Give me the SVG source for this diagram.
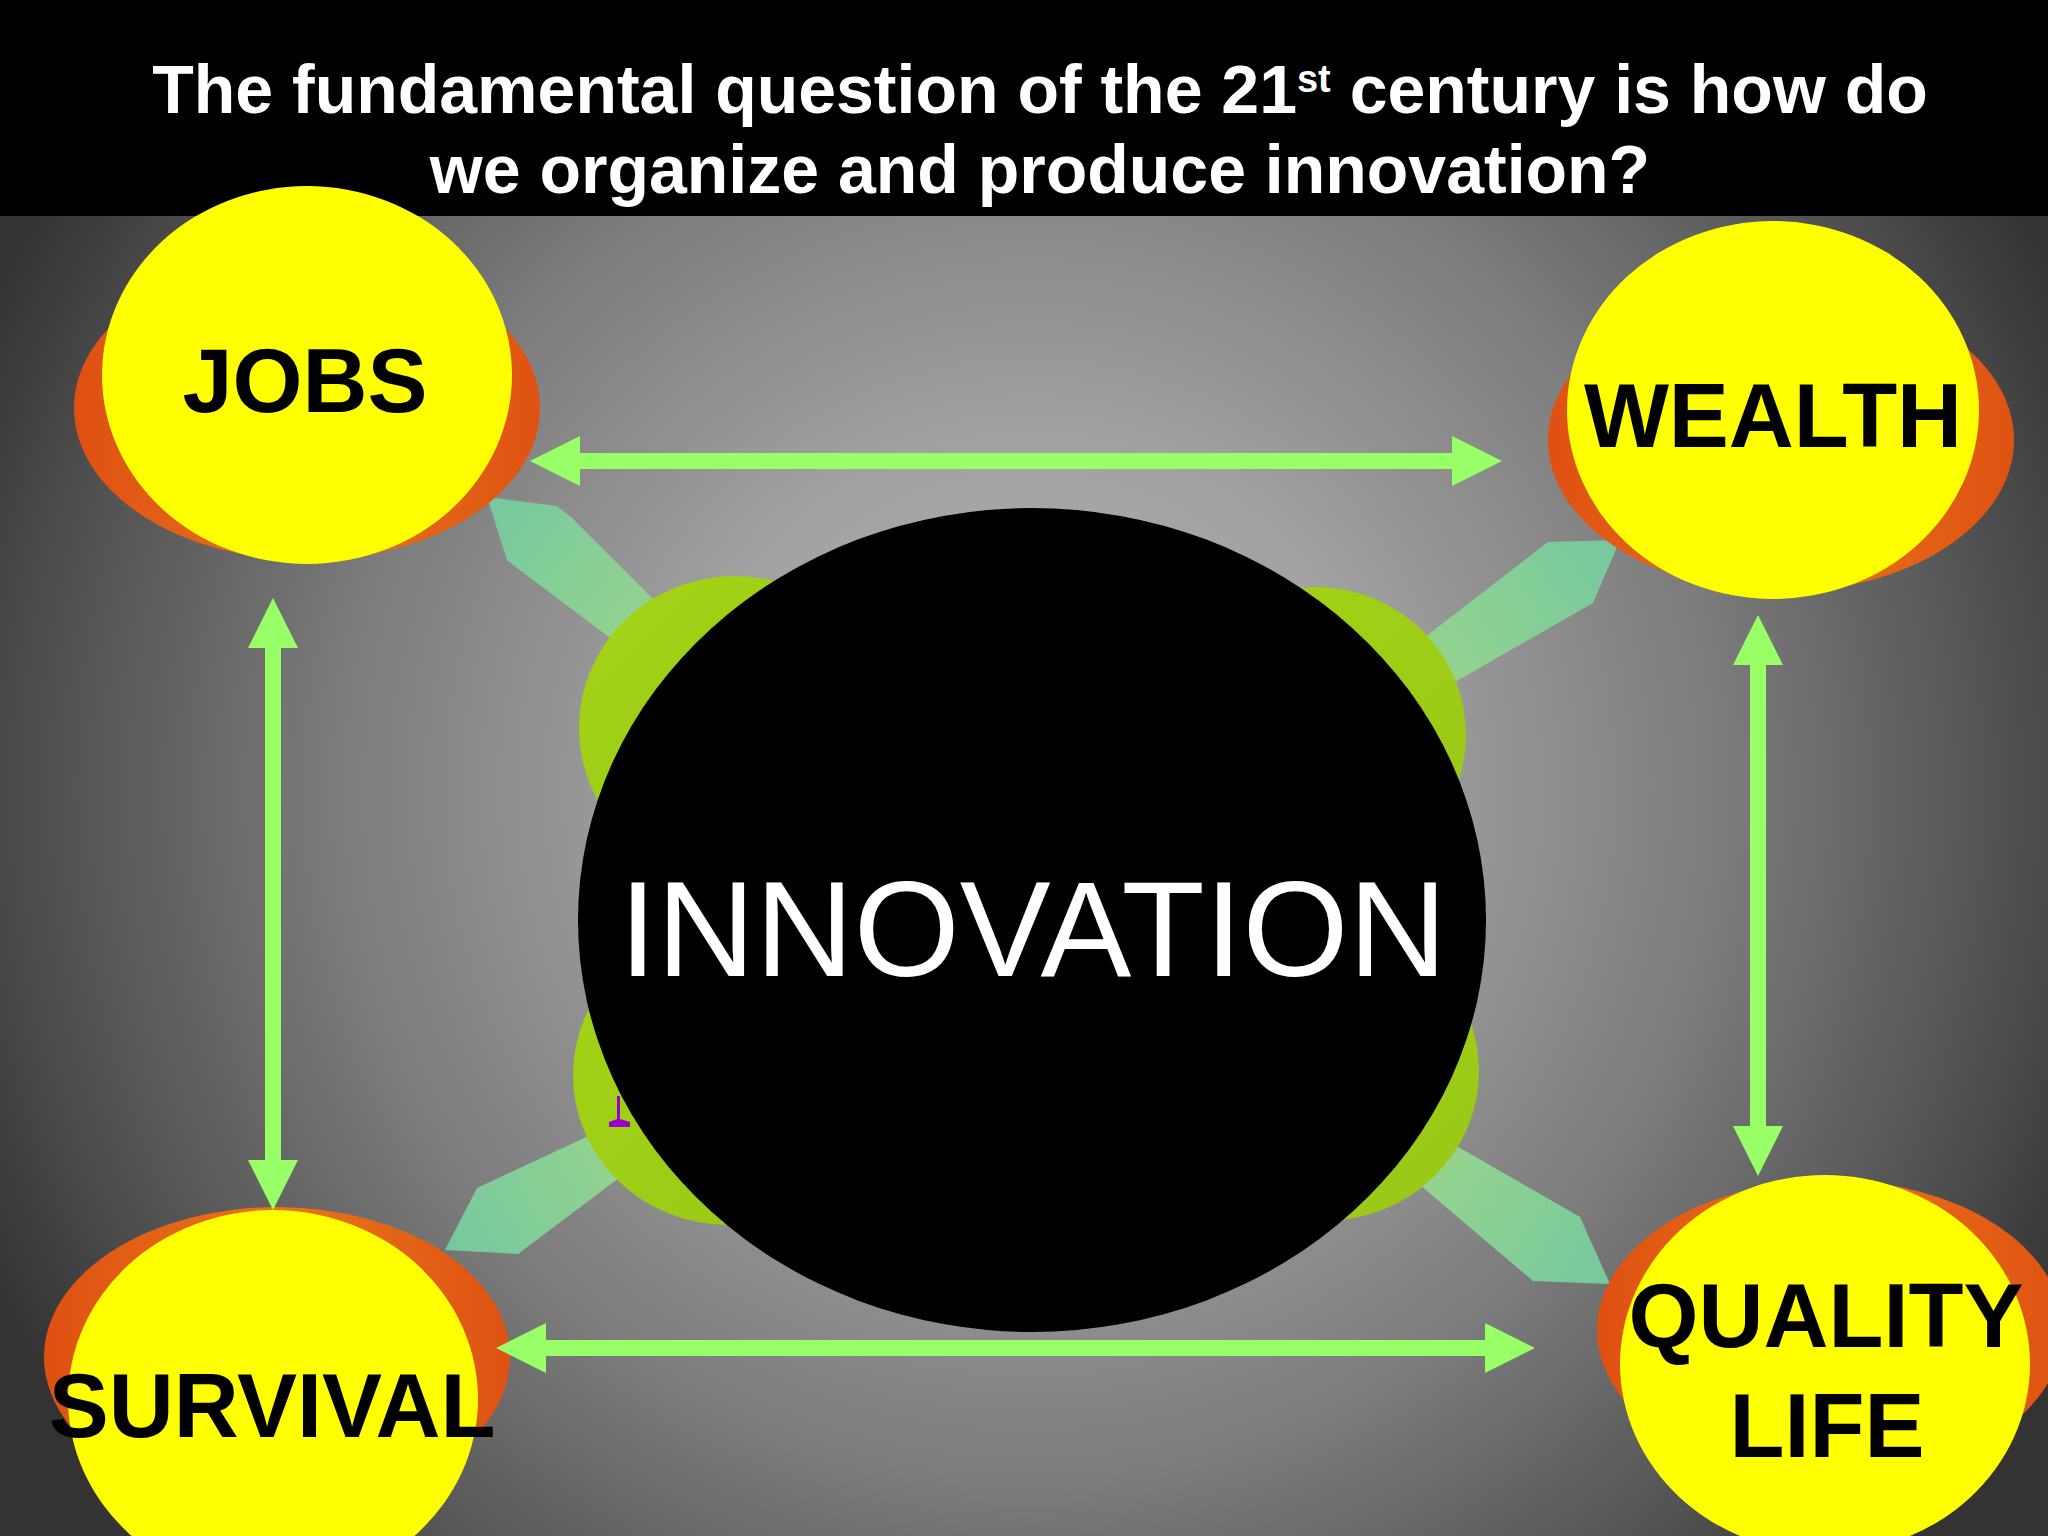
<svg xmlns="http://www.w3.org/2000/svg" width="2048" height="1536" viewBox="0 0 2048 1536">
  <defs>
    <radialGradient id="bg" gradientUnits="userSpaceOnUse" cx="1030" cy="790" r="1150">
      <stop offset="0" stop-color="#b6b6b6"/>
      <stop offset="0.3" stop-color="#a2a2a2"/>
      <stop offset="0.6" stop-color="#7c7c7c"/>
      <stop offset="0.85" stop-color="#515151"/>
      <stop offset="1" stop-color="#333333"/>
    </radialGradient>
    <linearGradient id="orange" x1="0" y1="0" x2="1" y2="0">
      <stop offset="0" stop-color="#df5012"/>
      <stop offset="0.5" stop-color="#e8761a"/>
      <stop offset="1" stop-color="#df5212"/>
    </linearGradient>
    <linearGradient id="lime" x1="0" y1="0" x2="1" y2="1">
      <stop offset="0" stop-color="#a4d414"/>
      <stop offset="1" stop-color="#98c818"/>
    </linearGradient>
    <linearGradient id="tealTL" gradientUnits="userSpaceOnUse" x1="490" y1="500" x2="680" y2="650">
      <stop offset="0" stop-color="#76c89e"/>
      <stop offset="1" stop-color="#9ad68c"/>
    </linearGradient>
    <linearGradient id="tealTR" gradientUnits="userSpaceOnUse" x1="1615" y1="545" x2="1400" y2="690">
      <stop offset="0" stop-color="#76c89e"/>
      <stop offset="1" stop-color="#9ad68c"/>
    </linearGradient>
    <linearGradient id="tealBL" gradientUnits="userSpaceOnUse" x1="450" y1="1248" x2="650" y2="1130">
      <stop offset="0" stop-color="#76c89e"/>
      <stop offset="1" stop-color="#9ad68c"/>
    </linearGradient>
    <linearGradient id="tealBR" gradientUnits="userSpaceOnUse" x1="1605" y1="1280" x2="1410" y2="1150">
      <stop offset="0" stop-color="#76c89e"/>
      <stop offset="1" stop-color="#9ad68c"/>
    </linearGradient>
    <style>
      .title { font-family: "Liberation Sans", Arial, sans-serif; font-weight: bold; font-size: 68px; fill: #ffffff; text-anchor: middle; }
      .label { font-family: "Liberation Sans", Arial, sans-serif; font-weight: bold; font-size: 90px; fill: #000000; text-anchor: middle; }
      .inno { font-family: "Liberation Sans", Arial, sans-serif; font-size: 136px; fill: #ffffff; text-anchor: middle; }
      .outer { fill: url(#orange); }
      .inner { fill: #ffff00; }
      .lime { fill: url(#lime); }
      .arrow { fill: #99ff66; }
    </style>
  </defs>

  <!-- background -->
  <rect x="0" y="0" width="2048" height="1536" fill="url(#bg)"/>
  <rect x="0" y="0" width="2048" height="216" fill="#000000"/>

  <!-- title -->
  <text class="title" x="1040" y="113">The fundamental question of the 21<tspan font-size="38" dy="-21">st</tspan><tspan dy="21"> century is how do</tspan></text>
  <text class="title" x="1040" y="193">we organize and produce innovation?</text>

  <!-- connectors: wide links from the centre -->
  <g id="connectors">
    <polygon fill="url(#tealTL)" points="487,497 557,506 571,517 690,636 653,670 513,565 507,560"/>
    <polygon fill="url(#tealTR)" points="1548,542 1620,540 1593,603 1420,702 1380,672"/>
    <polygon fill="url(#tealBL)" points="445,1250 477,1188 640,1112 660,1147 518,1254"/>
    <polygon fill="url(#tealBR)" points="1420,1125 1580,1217 1610,1284 1533,1281 1400,1168"/>
  </g>

  <!-- outer nodes -->
  <g id="node-jobs">
    <ellipse class="outer" cx="307" cy="408" rx="233" ry="152"/>
    <ellipse class="inner" cx="307" cy="375" rx="205" ry="189"/>
    <text class="label" x="305" y="412">JOBS</text>
  </g>
  <g id="node-wealth">
    <ellipse class="outer" cx="1781" cy="440" rx="233" ry="152"/>
    <ellipse class="inner" cx="1773" cy="410" rx="206" ry="189"/>
    <text class="label" x="1773" y="447">WEALTH</text>
  </g>
  <g id="node-survival">
    <ellipse class="outer" cx="277" cy="1357" rx="233" ry="150"/>
    <ellipse class="inner" cx="273" cy="1399" rx="205" ry="189"/>
    <text class="label" x="272" y="1437">SURVIVAL</text>
  </g>
  <g id="node-quality-life">
    <ellipse class="outer" cx="1830" cy="1330" rx="233" ry="150"/>
    <ellipse class="inner" cx="1825" cy="1364" rx="205" ry="189"/>
    <text class="label" x="1826" y="1347">QUALITY</text>
    <text class="label" x="1827" y="1457">LIFE</text>
  </g>

  <!-- centre node -->
  <g id="node-innovation">
    <ellipse class="lime" cx="735" cy="728" rx="156" ry="152"/>
    <ellipse class="lime" cx="1316" cy="735" rx="150" ry="148"/>
    <ellipse class="lime" cx="728" cy="1075" rx="155" ry="150"/>
    <ellipse class="lime" cx="1324" cy="1071" rx="155" ry="150"/>
    <path d="M617,1096 L620,1096 L620,1119 L630,1122 L630,1127 L609,1127 L609,1122 L617,1119 Z" fill="#9900cc"/>
    <ellipse cx="1032" cy="920" rx="454" ry="412" fill="#000000"/>
    <text class="inno" x="1033" y="976" textLength="828" lengthAdjust="spacingAndGlyphs">INNOVATION</text>
  </g>

  <!-- bright double arrows -->
  <g id="arrows">
    <polygon class="arrow" points="530,461 580,436 580,453 1452,453 1452,436 1502,461 1452,486 1452,469 580,469 580,486"/>
    <polygon class="arrow" points="496,1348 546,1323 546,1340 1485,1340 1485,1323 1535,1348 1485,1373 1485,1356 546,1356 546,1373"/>
    <polygon class="arrow" points="273,598 298,648 281,648 281,1160 298,1160 273,1210 248,1160 265,1160 265,648 248,648"/>
    <polygon class="arrow" points="1758,615 1783,665 1766,665 1766,1126 1783,1126 1758,1176 1733,1126 1750,1126 1750,665 1733,665"/>
  </g>
</svg>
